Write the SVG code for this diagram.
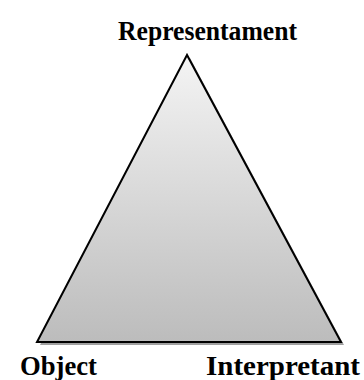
<svg xmlns="http://www.w3.org/2000/svg" width="364" height="380" viewBox="0 0 364 380">
<style>
.lbl{font-family:"Liberation Serif","Times New Roman",serif;font-weight:bold;font-size:28px;fill:#000}
</style>
<defs>
<linearGradient id="g" x1="0" y1="0" x2="0" y2="1">
<stop offset="0" stop-color="#f4f4f4"/>
<stop offset="1" stop-color="#bcbcbc"/>
</linearGradient>
</defs>
<g id="triangle">
<polygon points="190,58 40,345 344,345" fill="#a0a0a0"/>
<polygon points="187,55 37,342 341,342" fill="url(#g)" stroke="#000" stroke-width="2" stroke-linejoin="miter"/>
</g>
<g id="representament"><text class="lbl" x="118" y="40" textLength="179" lengthAdjust="spacingAndGlyphs">Representament</text></g>
<g id="object"><text class="lbl" x="20" y="375" textLength="77" lengthAdjust="spacingAndGlyphs">Object</text></g>
<g id="interpretant"><text class="lbl" x="206" y="375" textLength="154" lengthAdjust="spacingAndGlyphs">Interpretant</text></g>
</svg>
